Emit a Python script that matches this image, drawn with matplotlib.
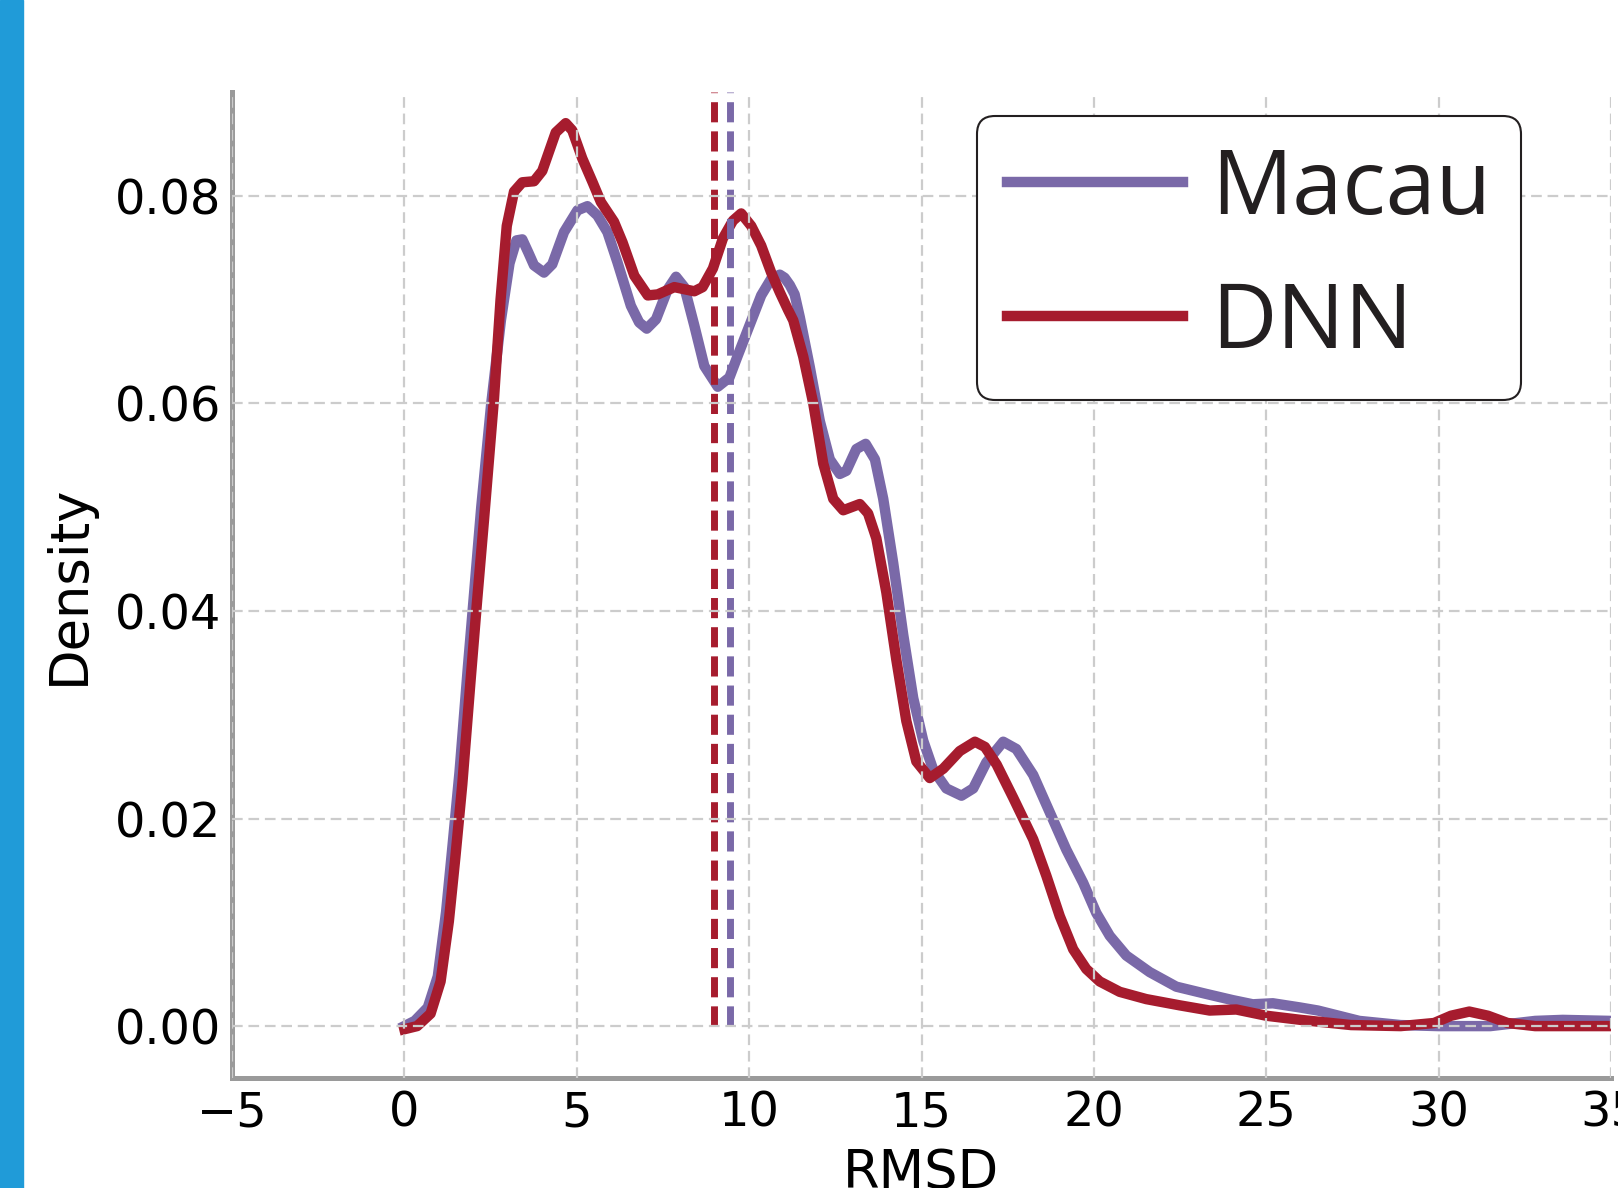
import matplotlib.pyplot as plt
from matplotlib.patches import Rectangle

# RMSD density curves
macau_x = [0.0, 0.3, 0.68, 0.97, 1.21, 1.40, 1.60, 1.84, 2.03, 2.23, 2.52, 2.8, 3.05, 3.25,
           3.42, 3.6, 3.76, 4.05, 4.29, 4.63, 5.02, 5.31, 5.60, 5.89, 6.18, 6.57, 6.81, 7.03,
           7.30, 7.64, 7.88, 8.12, 8.41, 8.70, 9.09, 9.43, 9.67, 10.01, 10.35, 10.64, 10.89,
           11.03, 11.18, 11.32, 11.47, 11.76, 12.05, 12.34, 12.63, 12.82, 13.11, 13.38, 13.65,
           13.89, 14.18, 14.47, 14.76, 15.05, 15.34, 15.72, 16.16, 16.50, 16.88, 17.37, 17.75,
           18.24, 18.72, 19.20, 19.69, 20.07, 20.46, 20.94, 21.62, 22.39, 23.26, 24.03, 24.61,
           25.19, 25.97, 26.5, 27.7, 28.9, 30.0, 31.5, 32.8, 33.6, 35.0]
macau_y = [0.0, 0.0005, 0.0018, 0.0048, 0.011, 0.0175, 0.0245, 0.0345, 0.042, 0.050, 0.060,
           0.068, 0.0735, 0.0757, 0.0758, 0.0745, 0.0733, 0.0726, 0.0734, 0.0765, 0.0786,
           0.0790, 0.0781, 0.0765, 0.0736, 0.0694, 0.0678, 0.0672, 0.0681, 0.0710, 0.0722,
           0.0712, 0.0675, 0.0636, 0.0616, 0.0625, 0.0646, 0.0675, 0.0704, 0.0720, 0.0724,
           0.0721, 0.0714, 0.0705, 0.0683, 0.0635, 0.0583, 0.0546, 0.0532, 0.0535, 0.0556,
           0.0561, 0.0546, 0.0508, 0.0446, 0.0377, 0.0316, 0.0275, 0.0247, 0.0229, 0.0222,
           0.0229, 0.0254, 0.0274, 0.0267, 0.0242, 0.0206, 0.0170, 0.0138, 0.0109, 0.0087,
           0.0068, 0.0052, 0.0038, 0.0031, 0.0025, 0.0021, 0.0022, 0.0018, 0.0015, 0.0005,
           0.0001, 0.0, 0.0, 0.0005, 0.0006, 0.0005]

dnn_x = [0.0, 0.37, 0.76, 1.05, 1.29, 1.48, 1.68, 1.92, 2.11, 2.31, 2.60, 2.79, 2.97, 3.18,
         3.42, 3.76, 4.0, 4.39, 4.68, 4.87, 5.16, 5.46, 5.70, 6.08, 6.33, 6.67, 7.06, 7.35,
         7.83, 8.41, 8.65, 8.95, 9.24, 9.53, 9.77, 10.06, 10.35, 10.64, 10.89, 11.13, 11.28,
         11.57, 11.86, 12.15, 12.44, 12.73, 13.21, 13.45, 13.69, 13.98, 14.27, 14.56, 14.85,
         15.24, 15.63, 16.11, 16.55, 16.84, 17.18, 17.66, 18.24, 18.62, 19.01, 19.40, 19.78,
         20.17, 20.75, 21.52, 22.49, 23.36, 24.13, 25.0, 26.0, 27.46, 28.9, 29.87, 30.36,
         30.89, 31.43, 32.0, 32.8, 35.0]
dnn_y = [-0.0003, 0.0, 0.0012, 0.0043, 0.0101, 0.0163, 0.0233, 0.0333, 0.0410, 0.0488, 0.0605,
         0.0700, 0.0771, 0.0804, 0.0813, 0.0814, 0.0824, 0.0861, 0.0870, 0.0863, 0.0836,
         0.0813, 0.0794, 0.0775, 0.0755, 0.0723, 0.0704, 0.0705, 0.0712, 0.0708, 0.0712,
         0.0730, 0.0759, 0.0776, 0.0783, 0.0771, 0.0752, 0.0726, 0.0707, 0.0690, 0.0680,
         0.0645, 0.0600, 0.0542, 0.0508, 0.0497, 0.0503, 0.0494, 0.0470, 0.0418, 0.0353,
         0.0294, 0.0255, 0.0239, 0.0248, 0.0265, 0.0274, 0.0269, 0.0252, 0.0220, 0.0180,
         0.0145, 0.0106, 0.0074, 0.0055, 0.0043, 0.0033, 0.0026, 0.0020, 0.0015, 0.0016,
         0.0010, 0.0006, 0.0001, 0.0, 0.0003, 0.0010, 0.0014, 0.0010, 0.0003, 0.0, 0.0]

means = {"Macau": 9.44, "DNN": 8.97}
colors = {"Macau": "#7a69a8", "DNN": "#a61c2e"}
xticks = [-5, 0, 5, 10, 15, 20, 25, 30, 35]
yticks = [0.0, 0.02, 0.04, 0.06, 0.08]

fig = plt.figure(figsize=(16.18, 11.88), dpi=100)
# blue strip on the left edge
fig.patches.append(Rectangle((0, 0), 23 / 1618, 1, transform=fig.transFigure,
                             color="#209bd8", zorder=0))

ax = fig.add_axes([232 / 1618, 1 - 1078 / 1188, 1379 / 1618, 986 / 1188])

ax.plot(macau_x, macau_y, color=colors["Macau"], lw=7.5, label="Macau")
ax.plot(dnn_x, dnn_y, color=colors["DNN"], lw=7.5, label="DNN")

ax.set_xlim(-5, 35)
ax.set_ylim(-0.005, 0.09)
for name in ["DNN", "Macau"]:
    ax.vlines(means[name], 0, ax.get_ylim()[1], color=colors[name], lw=5,
              linestyles=(0, (2.9, 1.3)))

ax.set_xticks(xticks)
ax.set_yticks(yticks)
ax.set_yticklabels([f"{v:.2f}" for v in yticks])
ax.tick_params(length=0, labelsize=34.5, pad=8)

ax.set_axisbelow(False)
ax.grid(True, color="#cccccc", lw=1.6, linestyle=(0, (4.8, 2.6)))
for side in ["top", "right"]:
    ax.spines[side].set_visible(False)
for side in ["left", "bottom"]:
    ax.spines[side].set_color("#9a9a9a")
    ax.spines[side].set_linewidth(3.6)
    ax.spines[side].set_zorder(2.4)

ax.set_ylabel("Density", fontsize=38, labelpad=14)
ax.set_xlabel("RMSD", fontsize=38, labelpad=8)

leg = ax.legend(loc="upper right", bbox_to_anchor=(0.935, 0.976), borderaxespad=0,
                prop={"family": "Open Sans", "size": 65}, labelcolor="#231f20",
                handlelength=1.95, handletextpad=0.32, borderpad=0.33,
                labelspacing=0.48, framealpha=1, fancybox=True)
leg.get_frame().set_edgecolor("#231f20")
leg.get_frame().set_linewidth(1.5)

fig.savefig("out.png", dpi=100)
